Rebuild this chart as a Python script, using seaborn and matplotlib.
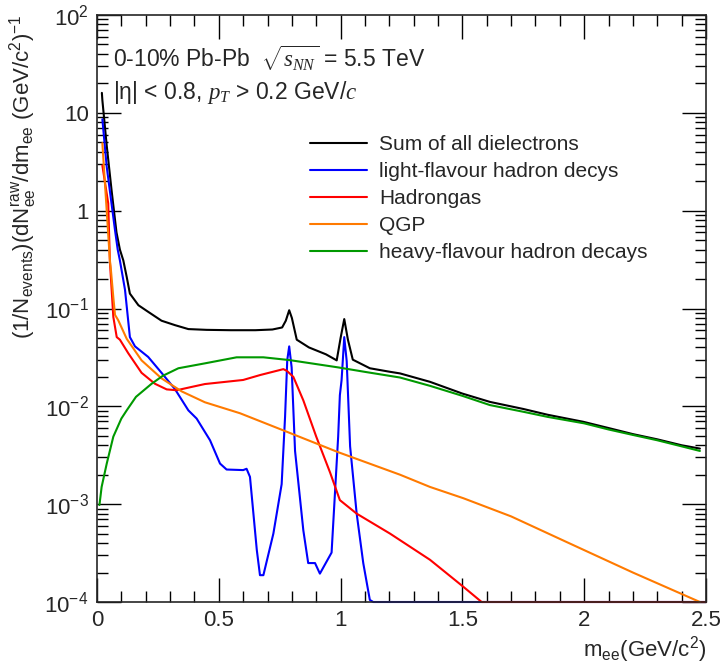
import numpy as np
import pandas as pd
import matplotlib
matplotlib.use("Agg")
import matplotlib.pyplot as plt
import seaborn as sns
from matplotlib.ticker import FixedLocator, NullFormatter, MultipleLocator

# ---------------- data ----------------
labels = ["Sum of all dielectrons", "light-flavour hadron decys", "Hadrongas",
          "QGP", "heavy-flavour hadron decays"]
colors = ["#000000", "#0000ff", "#ff0000", "#ff7a00", "#009900"]
x_ticks = [0, 0.5, 1, 1.5, 2, 2.5]
x_tick_labels = ["0", "0.5", "1", "1.5", "2", "2.5"]
y_ticks = [1e-4, 1e-3, 1e-2, 1e-1, 1, 10, 100]
y_tick_labels = [r"$10^{-4}$", r"$10^{-3}$", r"$10^{-2}$", r"$10^{-1}$", "1", "10", r"$10^{2}$"]

sum_x = [0.02, 0.022, 0.04, 0.06, 0.08, 0.094, 0.108, 0.122, 0.135, 0.17, 0.21,
         0.265, 0.32, 0.375, 0.45, 0.55, 0.65, 0.72, 0.76, 0.775, 0.789, 0.80,
         0.82, 0.87, 0.94, 0.984, 1.0, 1.015, 1.03, 1.05, 1.12, 1.2, 1.244, 1.367,
         1.5, 1.613, 1.75, 1.85, 1.996, 2.1, 2.2, 2.3, 2.4, 2.475]
sum_y = [16, 13.5, 4.6, 1.6, 0.6, 0.4, 0.31, 0.21, 0.142, 0.108, 0.0925,
         0.075, 0.0676, 0.0616, 0.0605, 0.060, 0.060, 0.061, 0.064, 0.075, 0.096, 0.08,
         0.048, 0.040, 0.034, 0.0295, 0.05, 0.078, 0.048, 0.030, 0.0245, 0.0226, 0.0217, 0.0178,
         0.0135, 0.0111, 0.0094, 0.0082, 0.00695, 0.006, 0.0052, 0.0046, 0.0040, 0.0037]

lf_x = [0.022, 0.04, 0.074, 0.085, 0.094, 0.115, 0.135, 0.156, 0.21,
        0.265, 0.32, 0.375, 0.409, 0.464, 0.505, 0.532, 0.60, 0.614, 0.628, 0.656,
        0.669, 0.683, 0.724, 0.758, 0.772, 0.781, 0.789, 0.799, 0.813, 0.847, 0.867,
        0.895, 0.915, 0.963, 0.99, 0.997, 1.004, 1.015, 1.025, 1.039, 1.066, 1.093,
        1.12, 1.134, 1.6, 2.5]
lf_y = [8.6, 2.8, 0.63, 0.4, 0.31, 0.155, 0.051, 0.041, 0.032,
        0.022, 0.015, 0.0091, 0.0075, 0.0045, 0.0026, 0.00226, 0.00223, 0.0023, 0.0019, 0.00034,
        0.000188, 0.000188, 0.0005, 0.0016, 0.0078, 0.0297, 0.041, 0.025, 0.0035, 0.00054, 0.00025,
        0.00025, 0.000195, 0.00032, 0.0049, 0.013, 0.0185, 0.051, 0.029, 0.0039, 0.0008, 0.00025,
        0.000105, 0.0001, 0.0001, 0.0001]

hg_x = [0.022, 0.046, 0.053, 0.067, 0.081, 0.094, 0.128, 0.183, 0.238,
        0.286, 0.327, 0.389, 0.443, 0.6, 0.67, 0.765, 0.78, 0.806, 0.847, 0.90,
        0.957, 0.997, 1.066, 1.203, 1.367, 1.504, 1.579, 2.5]
hg_y = [2.9, 1.19, 0.3, 0.082, 0.051, 0.048, 0.035, 0.022, 0.017,
        0.0149, 0.0146, 0.0158, 0.0169, 0.0186, 0.0209, 0.024, 0.023, 0.02, 0.0115, 0.0049,
        0.0021, 0.0011, 0.0008, 0.0005, 0.00027, 0.000143, 0.0001, 0.0001]

qgp_x = [0.022, 0.053, 0.057, 0.067, 0.074, 0.087, 0.122, 0.183, 0.265, 0.348, 0.443, 0.587,
         0.779, 0.99, 1.244, 1.367, 1.504, 1.7, 1.928, 2.2, 2.475]
qgp_y = [4.9, 0.31, 0.25, 0.13, 0.086, 0.076, 0.049, 0.0295, 0.0193, 0.0142, 0.011, 0.0085,
         0.0055, 0.0034, 0.0020, 0.0015, 0.00115, 0.00075, 0.00041, 0.0002, 0.0001]

hf_x = [0.01, 0.019, 0.04, 0.067, 0.1, 0.122, 0.16, 0.224, 0.27, 0.334, 0.443, 0.573,
        0.683, 0.79, 0.99, 1.1, 1.244, 1.367, 1.5, 1.613, 1.75, 1.85, 2.0, 2.1,
        2.2, 2.3, 2.4, 2.475]
hf_y = [0.00098, 0.0015, 0.0026, 0.0049, 0.0075, 0.0091, 0.0125, 0.017, 0.0205, 0.0245, 0.0275, 0.0317,
        0.0317, 0.0297, 0.025, 0.0225, 0.0197, 0.0162, 0.0128, 0.0103, 0.0088, 0.0078, 0.0067, 0.0058,
        0.0051, 0.0045, 0.0039, 0.0035]

# ---------------- build long table ----------------
frames = []
for lab, xs, ys in zip(labels, [sum_x, lf_x, hg_x, qgp_x, hf_x],
                       [sum_y, lf_y, hg_y, qgp_y, hf_y]):
    frames.append(pd.DataFrame({"m": xs, "y": ys, "comp": lab}))
df = pd.concat(frames, ignore_index=True)

sns.set_style("ticks")
plt.rcParams["font.family"] = ["Liberation Sans", "DejaVu Sans"]
plt.rcParams["mathtext.fontset"] = "custom"
plt.rcParams["mathtext.rm"] = "Liberation Sans"
plt.rcParams["mathtext.it"] = "Liberation Serif:italic"
plt.rcParams["mathtext.default"] = "regular"

fig = plt.figure(figsize=(7.23, 6.64), dpi=100)
ax = fig.add_axes([97 / 723, 62 / 664, 609 / 723, 587 / 664])

sns.lineplot(data=df, x="m", y="y", hue="comp", hue_order=labels,
             palette=dict(zip(labels, colors)), estimator=None, sort=False,
             linewidth=1.5, ax=ax, legend=False)
for ln in ax.get_lines():
    ln.set_clip_on(False)

ax.set_yscale("log")
ax.set_xlim(0, 2.5)
ax.set_ylim(1e-4, 1e2)

# ticks in ROOT style
ax.tick_params(which="both", direction="in", top=True, right=True, width=1, color="black")
ax.tick_params(which="major", length=17, labelsize=16, pad=6)
ax.tick_params(which="minor", length=8)
ax.xaxis.set_major_locator(FixedLocator(x_ticks))
ax.set_xticklabels(x_tick_labels)
ax.xaxis.set_minor_locator(MultipleLocator(0.1))
ax.yaxis.set_major_locator(FixedLocator(y_ticks))
ax.set_yticklabels(y_tick_labels)
minors = [m * 10.0 ** e for e in range(-4, 2) for m in range(2, 10)]
ax.yaxis.set_minor_locator(FixedLocator(minors))
ax.yaxis.set_minor_formatter(NullFormatter())
for s in ax.spines.values():
    s.set_linewidth(1.2)

ax.set_xlabel(r"m$_{\rm ee}$(GeV/c$^{2}$)", fontsize=16, loc="right", labelpad=2)
ax.set_ylabel(r"(1/N$_{\rm events}$)(dN$_{\rm ee}^{\rm raw}$/dm$_{\rm ee}$ (GeV/c$^{2}$)$^{-1}$",
              fontsize=16, loc="top", labelpad=4)

ax.text(0.027, 0.912, r"0-10% Pb-Pb  $\sqrt{\mathit{s}_{\mathit{NN}}}$ = 5.5 TeV",
        transform=ax.transAxes, fontsize=16.5, ha="left", va="baseline")
ax.text(0.027, 0.857, r"|η| < 0.8, $\mathit{p}_{\mathit{T}}$ > 0.2 GeV/$\mathit{c}$",
        transform=ax.transAxes, fontsize=16.5, ha="left", va="baseline")

handles = [plt.Line2D([], [], color=c, lw=1.5) for c in colors]
ax.legend(handles, labels, loc="upper left", bbox_to_anchor=(0.35, 0.795), frameon=False,
          fontsize=15, handlelength=2.74, handletextpad=0.58, labelspacing=0.38,
          borderaxespad=0, borderpad=0)

fig.savefig("out.png", dpi=100)
